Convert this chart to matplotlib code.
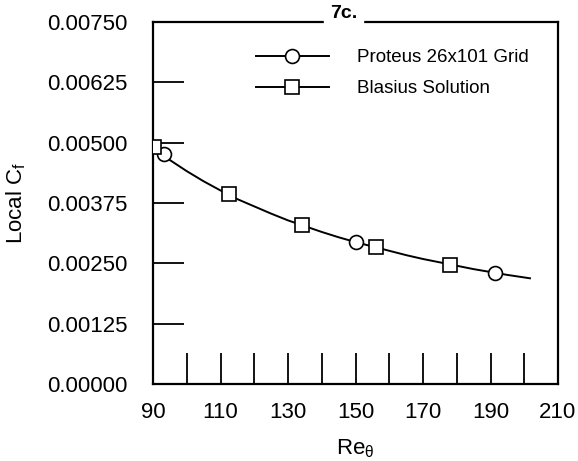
import matplotlib
matplotlib.use("Agg")
import matplotlib.pyplot as plt
from matplotlib.ticker import FormatStrFormatter

plt.rcParams['font.family'] = ['Liberation Sans', 'DejaVu Sans']
plt.rcParams['mathtext.default'] = 'regular'

# Values
proteus_re = [93.3, 150.1, 191.2]
proteus_cf = [0.00477, 0.00294, 0.00230]

blasius_re = [90.3, 112.4, 134.2, 156.0, 177.9]
blasius_cf = [0.00492, 0.00394, 0.00330, 0.00283, 0.00247]

# Blasius curve traced through the plot
curve_re = [90, 95, 100, 105, 110, 115, 120, 125, 130, 135, 140, 145, 150,
            155, 160, 165, 170, 175, 180, 185, 190, 195, 201.7]
curve_cf = [0.00490, 0.00464, 0.00441, 0.00420, 0.00401, 0.00383, 0.00368,
            0.00353, 0.00339, 0.00327, 0.00315, 0.00304, 0.00294, 0.00285,
            0.00276, 0.00267, 0.00259, 0.00252, 0.00245, 0.00238, 0.00232,
            0.00226, 0.00219]

x_major = [90, 110, 130, 150, 170, 190, 210]
x_minor = [100, 120, 140, 160, 180, 200]
y_major = [0.0, 0.00125, 0.0025, 0.00375, 0.005, 0.00625, 0.0075]

fig = plt.figure(figsize=(5.78, 4.61), dpi=100)
ax = fig.add_axes([153 / 578, 1 - 384 / 461, (558 - 153) / 578, (384 - 22) / 461])

# Solid curve, then the marker-only points
ax.plot(curve_re, curve_cf, color='black', linewidth=1.4, zorder=2)
ax.plot(proteus_re, proteus_cf, linestyle='none', marker='o', markersize=10,
        markerfacecolor='white', markeredgecolor='black', markeredgewidth=1.2, zorder=3)
ax.plot(blasius_re, blasius_cf, linestyle='none', marker='s', markersize=10,
        markerfacecolor='white', markeredgecolor='black', markeredgewidth=1.2, zorder=3)

# Legend handles (line with marker in the middle)
h1, = ax.plot([], [], color='black', linewidth=1.4, marker='o', markersize=10,
              markerfacecolor='white', markeredgecolor='black', markeredgewidth=1.2)
h2, = ax.plot([], [], color='black', linewidth=1.4, marker='s', markersize=10,
              markerfacecolor='white', markeredgecolor='black', markeredgewidth=1.2)
ax.legend([h1, h2], ['Proteus 26x101 Grid', 'Blasius Solution'],
          loc='upper left', bbox_to_anchor=(0.212, 0.972), frameon=False,
          fontsize=13.5, handlelength=3.9, handletextpad=1.5, labelspacing=0.75)

ax.set_xlim(90, 210)
ax.set_ylim(0, 0.0075)
ax.set_xticks(x_major)
ax.set_xticks(x_minor, minor=True)
ax.set_yticks(y_major)
ax.yaxis.set_major_formatter(FormatStrFormatter('%.5f'))

ax.tick_params(axis='both', which='both', direction='in', length=22, width=1.3,
               labelsize=16)
ax.tick_params(axis='x', pad=13)
ax.tick_params(axis='y', pad=18)
for s in ax.spines.values():
    s.set_linewidth(1.6)

ax.set_xlabel(r'Re$_\theta$', fontsize=16, labelpad=10)
ax.set_ylabel(r'Local C$_f$', fontsize=16, labelpad=14)

ax.set_title('7c.', fontsize=14, fontweight='bold', pad=-6,
             backgroundcolor='white', x=0.47)

fig.savefig('out.png', dpi=100)
